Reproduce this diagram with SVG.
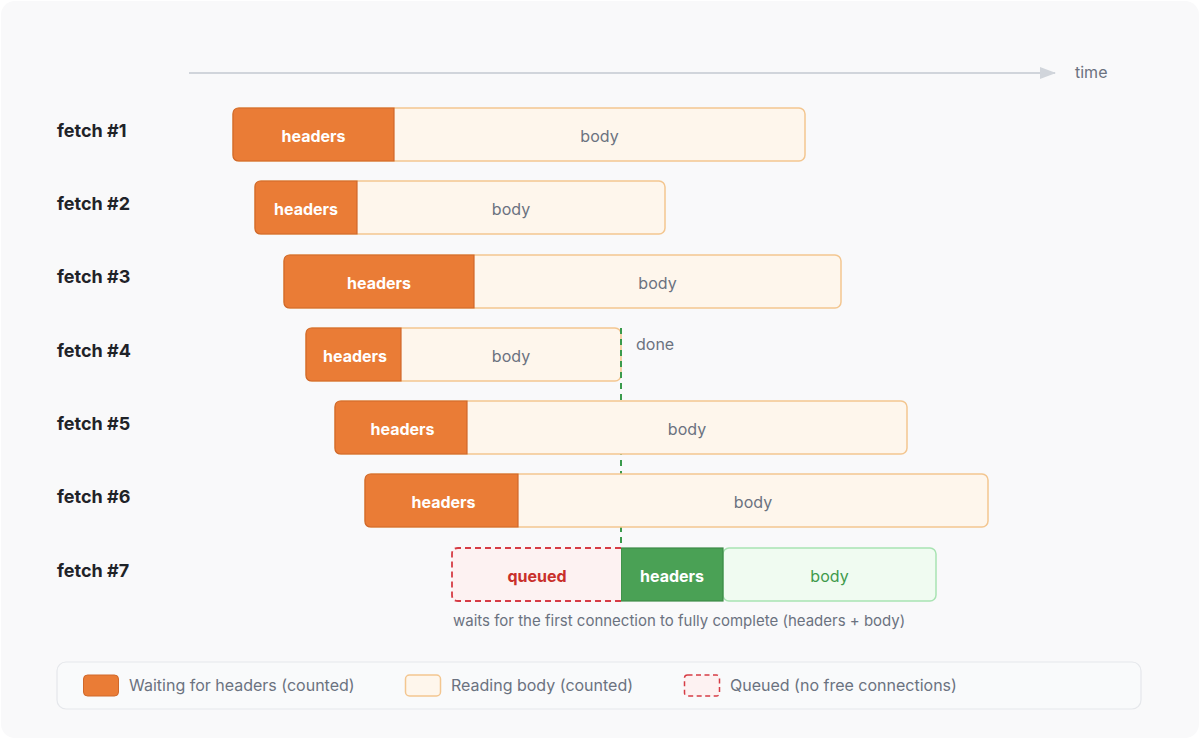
<svg xmlns="http://www.w3.org/2000/svg" width="1200" height="741" viewBox="0 0 1200 741">
<defs>
<style>
.lbl{font-family:Inter,"Liberation Sans",sans-serif;font-size:18px;font-weight:700;fill:#1f2328}
.ht{font-family:Inter,"Liberation Sans",sans-serif;font-size:16px;font-weight:700;fill:#ffffff;text-anchor:middle}
.bt{font-family:Inter,"Liberation Sans",sans-serif;font-size:16px;fill:#6b7280;text-anchor:middle}
.gt{font-family:Inter,"Liberation Sans",sans-serif;font-size:16px;fill:#6b7280}
.hd{fill:#ea7c36;stroke:#d0682a;stroke-width:1.2}
.bd{fill:#fef6ec;stroke:#f3c690;stroke-width:1.5}
</style>
<marker id="arr" markerWidth="16" markerHeight="12" refX="15" refY="6" orient="auto" markerUnits="userSpaceOnUse">
<path d="M0,0 L16,6 L0,12 Z" fill="#d1d5db"/>
</marker>
</defs>
<rect x="1" y="1" width="1198" height="737" rx="14" fill="#f9f9fa"/>
<g id="axis">
<line x1="189" y1="73" x2="1055" y2="73" stroke="#d1d5db" stroke-width="2" marker-end="url(#arr)"/>
<text class="gt" x="1075" y="78">time</text>
</g>
<g id="connectors">
<line x1="621" y1="328" x2="621" y2="548" stroke="#3a9a4b" stroke-width="2" stroke-dasharray="6 5"/>
<text class="gt" x="636" y="350">done</text>
</g>
<g id="fetch1">
<text class="lbl" x="57" y="137">fetch #1</text>
<rect class="bd" x="233" y="108" width="572" height="53" rx="6"/>
<path class="hd" d="M394,108 L239,108 Q233,108 233,114 L233,155 Q233,161 239,161 L394,161 Z"/>
<text class="ht" x="313.5" y="141.5">headers</text>
<text class="bt" x="599.5" y="141.5">body</text>
</g>
<g id="fetch2">
<text class="lbl" x="57" y="210">fetch #2</text>
<rect class="bd" x="255" y="181" width="410" height="53" rx="6"/>
<path class="hd" d="M357,181 L261,181 Q255,181 255,187 L255,228 Q255,234 261,234 L357,234 Z"/>
<text class="ht" x="306" y="214.5">headers</text>
<text class="bt" x="511" y="214.5">body</text>
</g>
<g id="fetch3">
<text class="lbl" x="57" y="283">fetch #3</text>
<rect class="bd" x="284" y="255" width="557" height="53" rx="6"/>
<path class="hd" d="M474,255 L290,255 Q284,255 284,261 L284,302 Q284,308 290,308 L474,308 Z"/>
<text class="ht" x="379" y="288.5">headers</text>
<text class="bt" x="657.5" y="288.5">body</text>
</g>
<g id="fetch4">
<text class="lbl" x="57" y="357">fetch #4</text>
<rect class="bd" x="306" y="328" width="315" height="53" rx="6"/>
<path class="hd" d="M401,328 L312,328 Q306,328 306,334 L306,375 Q306,381 312,381 L401,381 Z"/>
<text class="ht" x="355" y="361.5">headers</text>
<text class="bt" x="511" y="361.5">body</text>
<line x1="621" y1="328" x2="621" y2="381" stroke="#3a9a4b" stroke-width="2" stroke-dasharray="6 5"/>
</g>
<g id="fetch5">
<text class="lbl" x="57" y="430">fetch #5</text>
<rect class="bd" x="335" y="401" width="572" height="53" rx="6"/>
<path class="hd" d="M467,401 L341,401 Q335,401 335,407 L335,448 Q335,454 341,454 L467,454 Z"/>
<text class="ht" x="402.5" y="434.5">headers</text>
<text class="bt" x="687" y="434.5">body</text>
</g>
<g id="fetch6">
<text class="lbl" x="57" y="503">fetch #6</text>
<rect class="bd" x="365" y="474" width="623" height="53" rx="6"/>
<path class="hd" d="M518,474 L371,474 Q365,474 365,480 L365,521 Q365,527 371,527 L518,527 Z"/>
<text class="ht" x="443.5" y="507.5">headers</text>
<text class="bt" x="753" y="507.5">body</text>
</g>
<g id="fetch7">
<text class="lbl" x="57" y="577">fetch #7</text>
<rect x="723" y="548" width="213" height="53" rx="6" fill="#f0fbf1" stroke="#a8e3b2" stroke-width="1.5"/>
<rect x="621" y="548" width="102" height="53" fill="#4aa155" stroke="#3c8a46" stroke-width="1.2"/>
<path d="M621,548 L458,548 Q452,548 452,554 L452,595 Q452,601 458,601 L621,601" fill="#fdf2f2" stroke="#d63c45" stroke-width="1.8" stroke-dasharray="6 4"/>
<text x="537" y="581.5" font-family="Inter,'Liberation Sans',sans-serif" font-size="16" font-weight="700" fill="#c9302c" text-anchor="middle">queued</text>
<text class="ht" x="672" y="581.5">headers</text>
<text x="829.5" y="581.5" font-family="Inter,'Liberation Sans',sans-serif" font-size="16" fill="#3f9a4c" text-anchor="middle">body</text>
<text x="453" y="626" font-family="Inter,'Liberation Sans',sans-serif" font-size="15" fill="#6b7280">waits for the first connection to fully complete (headers + body)</text>
</g>
<g id="legend">
<rect x="57" y="662" width="1084" height="47" rx="9" fill="#f9fafb" stroke="#e5e7eb" stroke-width="1.2"/>
<rect x="83.5" y="675" width="35" height="21" rx="4" fill="#ea7c36" stroke="#d0682a" stroke-width="1"/>
<text class="gt" x="129" y="691">Waiting for headers (counted)</text>
<rect x="405.5" y="675" width="35" height="21" rx="4" fill="#fef6ec" stroke="#f3c690" stroke-width="1.5"/>
<text class="gt" x="451" y="691">Reading body (counted)</text>
<rect x="684.5" y="675" width="35" height="21" rx="3" fill="#fdf2f2" stroke="#d63c45" stroke-width="1.5" stroke-dasharray="5 3.5"/>
<text class="gt" x="730" y="691">Queued (no free connections)</text>
</g>
</svg>
